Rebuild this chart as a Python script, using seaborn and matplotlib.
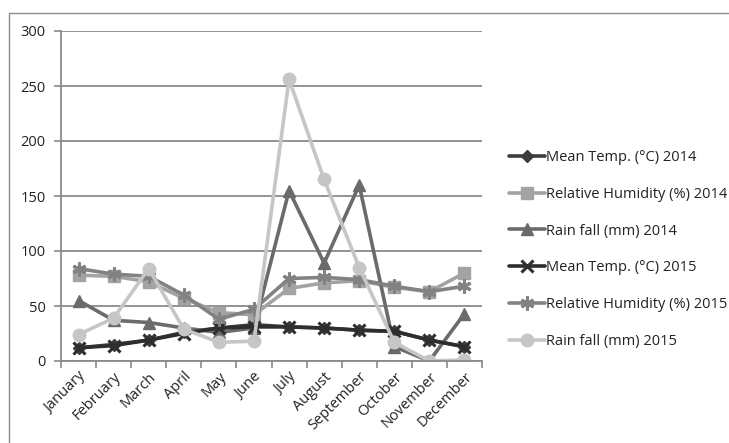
import matplotlib
matplotlib.use("Agg")
import matplotlib.pyplot as plt
from matplotlib.patches import Rectangle
import seaborn as sns
import numpy as np
import pandas as pd

months = ["January", "February", "March", "April", "May", "June", "July",
          "August", "September", "October", "November", "December"]

mean_temp_2014 = [12, 15, 19, 26, 30, 33, 31, 30, 28, 27, 19, 13]
humidity_2014 = [78, 77, 72, 57, 44, 42, 66, 71, 73, 67, 63, 80]
rainfall_2014 = [55, 37, 35, 30, 26, 30, 155, 89, 160, 13, 0, 43]
mean_temp_2015 = [12, 14, 19, 25, 30, 31, 31, 30, 28, 27, 19, 13]
humidity_2015 = [84, 79, 77, 60, 38, 47, 75, 76, 74, 68, 63, 68]
rainfall_2015 = [24, 39, 84, 29, 17, 18, 256, 165, 85, 17, 0, 1]

series_names = ["Mean Temp. (°C) 2014", "Relative Humidity (%) 2014",
                "Rain fall (mm) 2014", "Mean Temp. (°C) 2015",
                "Relative Humidity (%) 2015", "Rain fall (mm) 2015"]
series_values = [mean_temp_2014, humidity_2014, rainfall_2014,
                 mean_temp_2015, humidity_2015, rainfall_2015]

colors = ["#3c3c3c", "#a3a3a3", "#6b6b6b", "#2e2e2e", "#828282", "#c6c6c6"]
markers = ["D", "s", "^", "x", (6, 2, 0), "o"]
msizes = [6, 8, 8, 8, 10, 9]

rows = []
for name, vals in zip(series_names, series_values):
    for i, v in enumerate(vals):
        rows.append({"series": name, "month": i, "value": v})
df = pd.DataFrame(rows)

sns.set_theme(style="white")
plt.rcParams["font.family"] = ["Open Sans", "DejaVu Sans"]

fig = plt.figure(figsize=(7.29, 4.43), dpi=100)
W, H = 729, 443
ax = fig.add_axes([61 / W, (H - 361) / H, 421 / W, 330 / H])

# thin frame around the chart area (right and bottom edges fall outside)
fig.patches.append(Rectangle((9 / W, -0.5), 2.0, (H - 13) / H + 0.5,
                             transform=fig.transFigure, fill=False,
                             edgecolor="#8c8c8c", linewidth=1.0))

for name, color, mk, ms in zip(series_names, colors, markers, msizes):
    sub = df[df["series"] == name]
    mew = 2.2 if mk in ("x", (6, 2, 0)) else 1.0
    sns.lineplot(data=sub, x="month", y="value", ax=ax, color=color,
                 linewidth=2.6, marker=mk, markersize=ms,
                 markeredgecolor=color, markerfacecolor=color,
                 markeredgewidth=mew, label=name, sort=False)

ax.set_xlim(-0.5, 11.5)
ax.set_ylim(0, 300)
ax.set_yticks(np.arange(0, 301, 50))
ax.yaxis.grid(True, color="#8a8a8a", linewidth=1.3)
ax.set_axisbelow(True)
ax.set_xlabel("")
ax.set_ylabel("")

ax.set_xticks(np.arange(-0.5, 12, 1))
ax.set_xticklabels([])
ax.set_xticks(np.arange(12), minor=True)
ax.set_xticklabels(months, minor=True, rotation=45, ha="right",
                   rotation_mode="anchor", fontsize=10.5, color="#222222")
ax.tick_params(axis="x", which="major", length=5, width=1.2,
               color="#8a8a8a", direction="out", bottom=True)
ax.tick_params(axis="x", which="minor", length=0, pad=6)
ax.tick_params(axis="y", length=5, width=1.2, color="#8a8a8a",
               direction="out", left=True, labelsize=10.5,
               labelcolor="#222222", pad=6)

for side in ["top", "right"]:
    ax.spines[side].set_visible(False)
for side in ["left", "bottom"]:
    ax.spines[side].set_color("#8a8a8a")
    ax.spines[side].set_linewidth(1.3)

leg = ax.legend(loc="upper left", bbox_to_anchor=(503 / W, (H - 144) / H),
                bbox_transform=fig.transFigure, frameon=False,
                fontsize=10.5, handlelength=2.5, handletextpad=0.05,
                labelspacing=1.5, borderaxespad=0)
for t in leg.get_texts():
    t.set_color("#222222")

fig.savefig("out.png", dpi=100)
